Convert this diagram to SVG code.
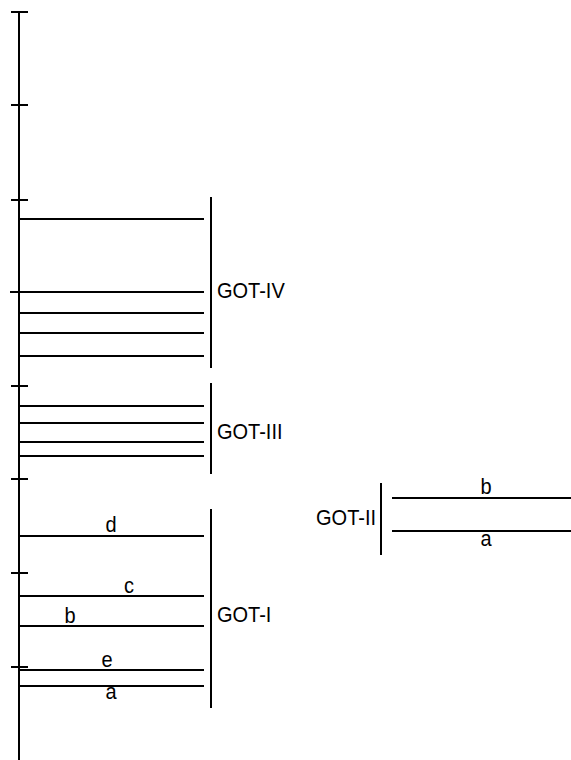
<svg xmlns="http://www.w3.org/2000/svg" width="571" height="760" viewBox="0 0 571 760">
  <style>
    .ln { stroke: #000; stroke-width: 2; fill: none; }
    .band { stroke: #000; stroke-width: 2; fill: none; }
    .lbl { font-family: "Liberation Sans", Arial, sans-serif; font-size: 20px; fill: #000; }
    .sub { font-family: "Liberation Sans", Arial, sans-serif; font-size: 20px; fill: #000; text-anchor: middle; }
  </style>
  <rect width="571" height="760" fill="#fff"/>

  <!-- axis with tick marks -->
  <g id="axis">
    <line class="ln" x1="19" y1="12" x2="19" y2="760"/>
    <line class="ln" x1="11" y1="12" x2="28" y2="12"/>
    <line class="ln" x1="11" y1="105" x2="28" y2="105"/>
    <line class="ln" x1="11" y1="200" x2="28" y2="200"/>
    <line class="ln" x1="10" y1="292" x2="19" y2="292"/>
    <line class="ln" x1="11" y1="386" x2="28" y2="386"/>
    <line class="ln" x1="11" y1="479" x2="28" y2="479"/>
    <line class="ln" x1="11" y1="573" x2="28" y2="573"/>
    <line class="ln" x1="11" y1="667" x2="28" y2="667"/>
  </g>

  <!-- GOT-IV bands -->
  <g id="got-iv">
    <line class="band" x1="19" y1="219" x2="204" y2="219"/>
    <line class="band" x1="19" y1="292" x2="204" y2="292"/>
    <line class="band" x1="19" y1="313" x2="204" y2="313"/>
    <line class="band" x1="19" y1="333" x2="204" y2="333"/>
    <line class="band" x1="19" y1="356" x2="204" y2="356"/>
    <line class="ln" x1="211" y1="197" x2="211" y2="368"/>
    <text class="lbl" transform="translate(217 298) scale(1 1.08)">GOT-IV</text>
  </g>

  <!-- GOT-III bands -->
  <g id="got-iii">
    <line class="band" x1="19" y1="406" x2="204" y2="406"/>
    <line class="band" x1="19" y1="423" x2="204" y2="423"/>
    <line class="band" x1="19" y1="442" x2="204" y2="442"/>
    <line class="band" x1="19" y1="456" x2="204" y2="456"/>
    <line class="ln" x1="211" y1="383" x2="211" y2="474"/>
    <text class="lbl" transform="translate(217 439) scale(1 1.08)">GOT-III</text>
  </g>

  <!-- GOT-I bands -->
  <g id="got-i">
    <line class="band" x1="19" y1="536" x2="204" y2="536"/>
    <line class="band" x1="19" y1="596" x2="204" y2="596"/>
    <line class="band" x1="19" y1="626" x2="204" y2="626"/>
    <line class="band" x1="19" y1="670" x2="204" y2="670"/>
    <line class="band" x1="19" y1="686" x2="204" y2="686"/>
    <line class="ln" x1="211" y1="509" x2="211" y2="708"/>
    <text class="lbl" transform="translate(217 622) scale(1 1.08)">GOT-I</text>
    <text class="sub" transform="translate(111 532) scale(1 1.1)">d</text>
    <text class="sub" transform="translate(129 593) scale(1 1.1)">c</text>
    <text class="sub" transform="translate(70 623) scale(1 1.1)">b</text>
    <text class="sub" transform="translate(107 667) scale(1 1.1)">e</text>
    <text class="sub" transform="translate(111 699) scale(1 1.1)">a</text>
  </g>

  <!-- GOT-II bands -->
  <g id="got-ii">
    <line class="ln" x1="381" y1="483" x2="381" y2="555"/>
    <line class="band" x1="392" y1="498" x2="571" y2="498"/>
    <line class="band" x1="392" y1="531" x2="571" y2="531"/>
    <text class="lbl" text-anchor="end" transform="translate(376 525) scale(1 1.08)">GOT-II</text>
    <text class="sub" transform="translate(486 494) scale(1 1.1)">b</text>
    <text class="sub" transform="translate(486 546) scale(1 1.1)">a</text>
  </g>
</svg>
